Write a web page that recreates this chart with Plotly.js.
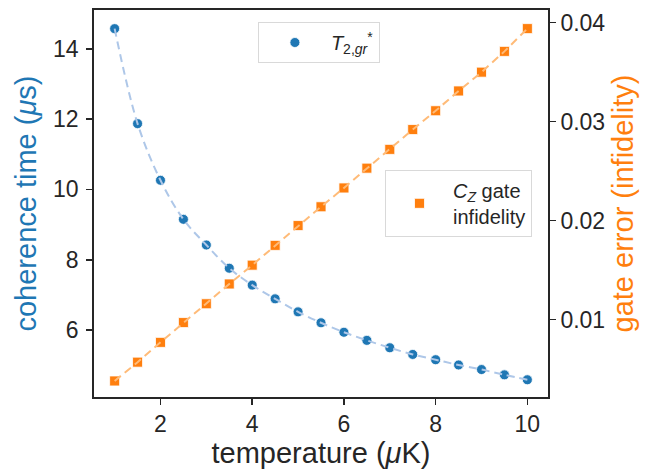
<!DOCTYPE html>
<html>
<head>
<meta charset="utf-8">
<script src="https://cdn.plot.ly/plotly-3.0.1.min.js"></script>
<style>html,body{margin:0;padding:0;background:#fff;}#chart{width:646px;height:469px;}</style>
</head>
<body>
<div id="chart"></div>
<script>
const temperature = [1, 1.5, 2, 2.5, 3, 3.5, 4, 4.5, 5, 5.5, 6, 6.5, 7, 7.5, 8, 8.5, 9, 9.5, 10];
const coherenceTime = [14.57, 11.87, 10.26, 9.15, 8.42, 7.76, 7.28, 6.89, 6.52, 6.21, 5.94, 5.71, 5.50, 5.31, 5.16, 5.01, 4.88, 4.73, 4.59];
const gateError = [0.0038, 0.0057, 0.0077, 0.0097, 0.0116, 0.0136, 0.0155, 0.0175, 0.0195, 0.0214, 0.0233, 0.0253, 0.0272, 0.0292, 0.0311, 0.0331, 0.0350, 0.0371, 0.0394];
const xTicks = [2, 4, 6, 8, 10];
const yTicks = [6, 8, 10, 12, 14];
const y2Ticks = [0.01, 0.02, 0.03, 0.04];

const dark = '#262626';
const blue = '#1f77b4', lightBlue = '#aec7e8';
const orange = '#ff7f0e', lightOrange = '#ffbb78';
const font = 'Liberation Sans, Arial, sans-serif';

const traces = [
  {x: temperature, y: coherenceTime, type: 'scatter', mode: 'markers', name: '<i>T</i><sub>2,<i>gr</i></sub><sup>*</sup>',
   marker: {symbol: 'circle', size: 10, color: blue, line: {color: '#ffffff', width: 0.8}}, legend: 'legend', yaxis: 'y'},
  {x: temperature, y: coherenceTime, type: 'scatter', mode: 'lines', showlegend: false, hoverinfo: 'skip',
   line: {color: lightBlue, width: 2, dash: '8px,5px', shape: 'spline'}, yaxis: 'y'},
  {x: temperature, y: gateError, type: 'scatter', mode: 'markers', name: '<i>C</i><sub><i>Z</i></sub> gate<br>infidelity',
   marker: {symbol: 'square', size: 10, color: orange, line: {color: '#ffffff', width: 0.8}}, legend: 'legend2', yaxis: 'y2'},
  {x: temperature, y: gateError, type: 'scatter', mode: 'lines', showlegend: false, hoverinfo: 'skip',
   line: {color: lightOrange, width: 2, dash: '8px,5px'}, yaxis: 'y2'}
];

const layout = {
  width: 646, height: 469,
  margin: {l: 94, r: 98, t: 10, b: 72},
  paper_bgcolor: '#ffffff', plot_bgcolor: '#ffffff',
  font: {family: font, size: 23, color: dark},
  showlegend: true,
  xaxis: {
    range: [0.55, 10.45], tickvals: xTicks, ticks: 'outside', ticklen: 6, tickwidth: 1.6, tickcolor: dark,
    showline: true, linecolor: dark, linewidth: 1.8, mirror: true, showgrid: false, zeroline: false,
    tickfont: {size: 23, color: dark, family: font},
    title: {text: 'temperature (<i>μ</i>K)', font: {size: 29, color: dark, family: font}, standoff: 4},
    automargin: false
  },
  yaxis: {
    range: [4.1, 15.1], tickvals: yTicks, ticks: 'outside', ticklen: 6, tickwidth: 1.6, tickcolor: dark,
    showline: true, linecolor: dark, linewidth: 1.8, showgrid: false, zeroline: false,
    tickfont: {size: 23, color: dark, family: font}, ticklabelstandoff: 3,
    title: {text: 'coherence time (<i>μ</i>s)', font: {size: 29, color: blue, family: font}, standoff: 8},
    automargin: false
  },
  yaxis2: {
    overlaying: 'y', side: 'right',
    range: [0.00218, 0.04128], tickvals: y2Ticks, ticktext: y2Ticks.map(v => v.toFixed(2)),
    ticks: 'outside', ticklen: 6, tickwidth: 1.6, tickcolor: dark,
    showline: true, linecolor: dark, linewidth: 1.8, showgrid: false, zeroline: false,
    tickfont: {size: 23, color: dark, family: font},
    title: {text: 'gate error (infidelity)', font: {size: 29, color: orange, family: font}, standoff: 8},
    automargin: false
  },
  legend: {
    x: 0.361, y: 0.969, xanchor: 'left', yanchor: 'top',
    bgcolor: '#ffffff', bordercolor: '#d9d9d9', borderwidth: 1,
    font: {size: 20, color: dark, family: font}, itemwidth: 62
  },
  legend2: {
    x: 0.641, y: 0.587, xanchor: 'left', yanchor: 'top',
    bgcolor: '#ffffff', bordercolor: '#d9d9d9', borderwidth: 1,
    font: {size: 20, color: dark, family: font}, itemwidth: 57
  }
};

Plotly.newPlot('chart', traces, layout, {displayModeBar: false, staticPlot: true});
</script>
</body>
</html>
